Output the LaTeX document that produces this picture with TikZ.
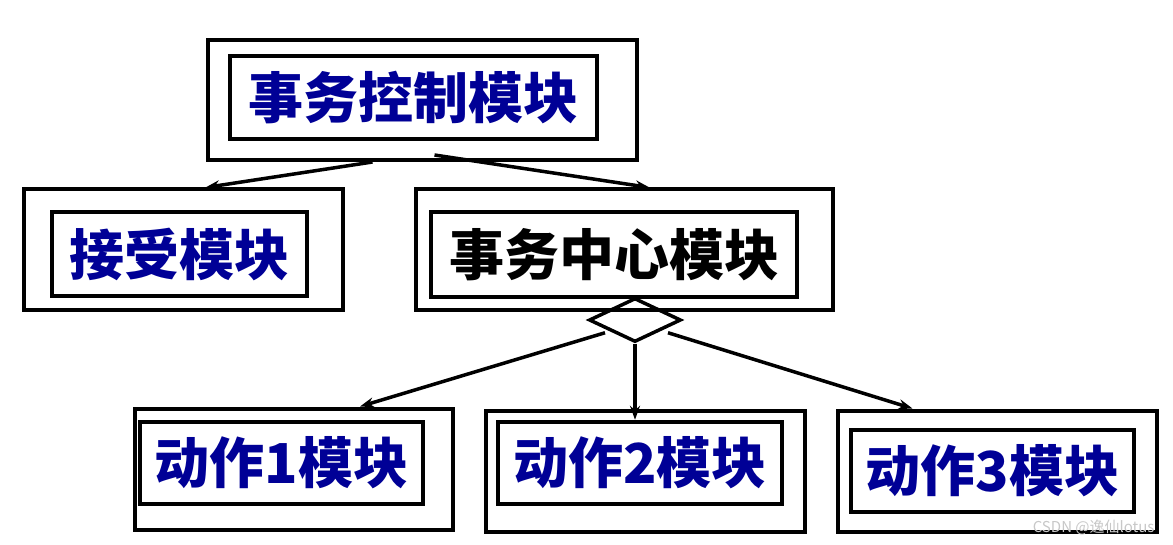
\documentclass[tikz,border=0pt]{standalone}
\usepackage{fontspec}
\usepackage{xcolor}
\usetikzlibrary{arrows.meta,shapes.geometric}
\newfontfamily\cjk{Noto Sans CJK SC}
\definecolor{ModBlue}{RGB}{0, 0, 150}
\definecolor{MarkGray}{RGB}{200, 200, 200}

\begin{document}
\begin{tikzpicture}[x=1pt, y=-1pt, >={Stealth[length=14pt,width=10pt]},
  frame/.style={draw, line width=4pt, rectangle, inner sep=0pt, minimum height=121pt},
  modbox/.style={draw, line width=4.5pt, rectangle, inner sep=0pt, minimum height=83pt,
                 text=ModBlue, font=\cjk\bfseries\fontsize{55}{60}\selectfont},
  gate/.style={draw, line width=3.5pt, diamond, aspect=2.1, inner sep=0pt,
               minimum width=92pt, minimum height=44pt},
  sig/.style={->, line width=3.5pt}]
  \useasboundingbox (0,0) rectangle (1173,545);

  % top level
  \node[frame, minimum width=429pt, minimum height=120pt] (ctrlout) at (422.5,100) {};
  \node[modbox, minimum width=367pt] (ctrl) at (413.5,97.5) {事务控制模块};

  % second level
  \node[frame, minimum width=319pt] (recvout) at (183.5,250) {};
  \node[modbox, minimum width=255pt, minimum height=84pt] (recv) at (179.5,254) {接受模块};
  \node[frame, minimum width=417pt] (hubout) at (624.5,250) {};
  \node[modbox, minimum width=366pt, minimum height=85pt, text=black] (hub) at (614,254.5) {事务中心模块};
  \node[gate] (dia) at (635,320) {};

  % actions
  \node[frame, minimum width=318pt] (act1out) at (294,469) {};
  \node[modbox, minimum width=283pt, minimum height=82pt] (act1) at (281.5,463) {动作1模块};
  \node[frame, minimum width=319pt] (act2out) at (645.5,471.5) {};
  \node[modbox, minimum width=284pt, minimum height=82pt] (act2) at (640,463) {动作2模块};
  \node[frame, minimum width=319pt] (act3out) at (997.5,471) {};
  \node[modbox, minimum width=283pt, minimum height=82pt] (act3) at (992.5,471) {动作3模块};

  \draw[sig] ([xshift=-50pt]ctrlout.south) -- ([xshift=22pt]recvout.north);
  \draw[sig] ([xshift=12pt,yshift=7pt]ctrlout.south) -- ([xshift=25pt]hubout.north);
  \draw[sig] ([xshift=-30pt,yshift=11pt]dia.south) -- ([xshift=66pt]act1out.north);
  \draw[sig] (dia.south) -- (dia.south |- act2.north);
  \draw[sig] ([xshift=33pt,yshift=11pt]dia.south) -- ([xshift=-85pt]act3out.north);

  \node[text=MarkGray, font=\cjk\fontsize{15}{17}\selectfont, anchor=east] (mark) at (1158,527) {CSDN @逸仙lotus};
\end{tikzpicture}
\end{document}
